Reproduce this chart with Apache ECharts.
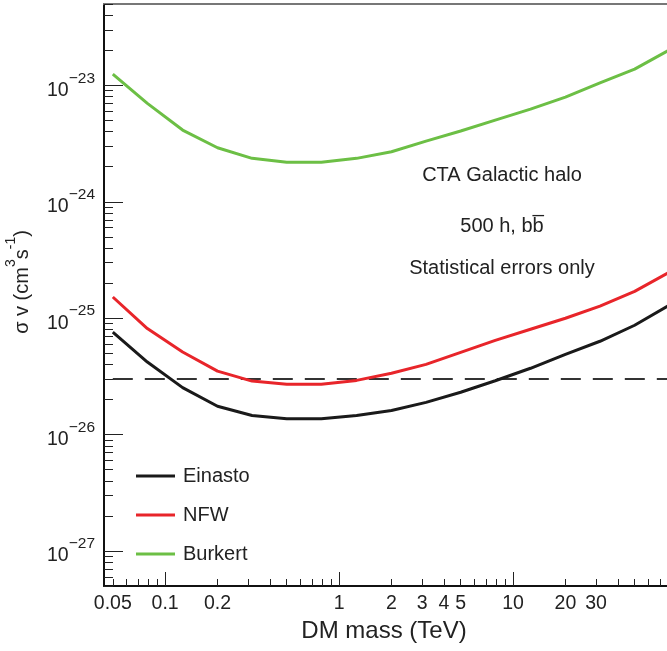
<!DOCTYPE html>
<html><head><meta charset="utf-8">
<script src="https://cdn.jsdelivr.net/npm/echarts@6/dist/echarts.min.js"></script>
<style>html,body{margin:0;padding:0;background:#fff}#c{width:667px;height:651px}</style>
</head><body><div id="c"></div>
<script>
// ---- data ----
const massTeV = [0.05, 0.079, 0.126, 0.2, 0.316, 0.5, 0.79, 1.26, 2, 3.16, 5, 7.9, 12.6, 20, 31.6, 50, 79];
const einasto = [7.6e-26, 4.2e-26, 2.53e-26, 1.75e-26, 1.46e-26, 1.37e-26, 1.37e-26, 1.46e-26, 1.61e-26, 1.89e-26, 2.31e-26, 2.90e-26, 3.71e-26, 4.89e-26, 6.33e-26, 8.69e-26, 1.29e-25];
const nfw = [1.52e-25, 8.14e-26, 5.12e-26, 3.51e-26, 2.88e-26, 2.70e-26, 2.70e-26, 2.92e-26, 3.36e-26, 4.01e-26, 5.09e-26, 6.45e-26, 8.03e-26, 9.98e-26, 1.27e-25, 1.70e-25, 2.48e-25];
const burkert = [1.25e-23, 7.0e-24, 4.13e-24, 2.91e-24, 2.36e-24, 2.18e-24, 2.18e-24, 2.36e-24, 2.69e-24, 3.32e-24, 4.05e-24, 5.03e-24, 6.25e-24, 7.93e-24, 1.05e-23, 1.38e-23, 2.01e-23];
const thermalXs = [3e-26, 3e-26];
const thermalMass = [0.05, 100];
const seriesNames = ['Einasto', 'NFW', 'Burkert'];
const xTickLabels = [0.05, 0.1, 0.2, 1, 2, 3, 4, 5, 10, 20, 30];
const yTickLabels = [1e-27, 1e-26, 1e-25, 1e-24, 1e-23];
const annotations = ['CTA Galactic halo', '500 h, bb\u0305', 'Statistical errors only'];

// ---- axis ranges / tick helpers ----
const X_MIN = 0.0445, X_MAX = 100, Y_MIN = 5e-28, Y_MAX = 5e-23;
function minorTicks(lo, hi, e0, e1) {
  const out = [];
  for (let e = e0; e <= e1; e++) for (let k = 2; k <= 9; k++) {
    const v = parseFloat((k * Math.pow(10, e)).toPrecision(3));
    if (v >= lo && v <= hi) out.push(v);
  }
  return out;
}
function decades(lo, hi, e0, e1) {
  const out = [];
  for (let e = e0; e <= e1; e++) { const v = parseFloat(Math.pow(10, e).toPrecision(3)); if (v >= lo && v <= hi) out.push(v); }
  return out;
}
const lg = v => Math.log10(v);
const FONT = 'Liberation Sans, Arial, Helvetica, sans-serif';
const TXT = '#222';

const chart = echarts.init(document.getElementById('c'), null, {renderer: 'canvas'});
const colors = ['#1a1a1a', '#e8252a', '#6cbf45'];
const curves = [einasto, nfw, burkert];

chart.setOption({
  animation: false,
  backgroundColor: '#fff',
  grid: {left: 104, right: -20, top: 4, bottom: 65, containLabel: false, outerBoundsMode: 'none'},
  legend: {
    orient: 'vertical', left: 131, top: 461, itemWidth: 39, itemHeight: 3, itemGap: 19,
    icon: 'rect', data: seriesNames,
    textStyle: {fontFamily: FONT, fontSize: 20, color: TXT, padding: [0, 0, 0, 3]}
  },
  xAxis: [
    {type: 'log', min: X_MIN, max: X_MAX, position: 'bottom',
     axisLine: {show: true, lineStyle: {color: '#111', width: 2}},
     axisTick: {show: true, inside: true, length: 7, lineStyle: {color: '#222', width: 1}, customValues: minorTicks(X_MIN, X_MAX, -2, 2)},
     axisLabel: {show: true, customValues: xTickLabels, margin: 8, color: TXT, fontFamily: FONT, fontSize: 19.5,
                 formatter: v => String(parseFloat(Number(v).toPrecision(3)))},
     splitLine: {show: false}, minorTick: {show: false},
     name: 'DM mass (TeV)', nameLocation: 'middle', nameGap: 30,
     nameTextStyle: {fontFamily: FONT, fontSize: 24, color: TXT, padding: [0, 23, 0, 0]}},
    {type: 'log', min: X_MIN, max: X_MAX, position: 'bottom',
     axisLine: {show: false},
     axisTick: {show: true, inside: true, length: 14, lineStyle: {color: '#222', width: 1}, customValues: decades(X_MIN, X_MAX, -2, 2)},
     axisLabel: {show: false}, splitLine: {show: false}},
    {type: 'log', min: X_MIN, max: X_MAX, position: 'top',
     axisLine: {show: true, lineStyle: {color: '#777', width: 2}},
     axisTick: {show: false}, axisLabel: {show: false}, splitLine: {show: false}}
  ],
  yAxis: [
    // data axis (log scale) carrying the series and the axis title
    {type: 'log', min: Y_MIN, max: Y_MAX, position: 'left',
     axisLine: {show: true, lineStyle: {color: '#111', width: 2}},
     axisTick: {show: false}, axisLabel: {show: false}, splitLine: {show: false},
     name: '{a|\u03c3 v (cm}{s|3}{a|s}{s|-1}{a|)}', nameLocation: 'middle', nameGap: 72,
     nameTextStyle: {fontFamily: FONT, fontSize: 20, color: TXT, padding: [0, 0, 0, 26],
       rich: {a: {fontFamily: FONT, fontSize: 20, color: TXT, lineHeight: 28, verticalAlign: 'bottom'},
              s: {fontFamily: FONT, fontSize: 14, color: TXT, lineHeight: 14, verticalAlign: 'top'}}}},
    // same range in decades, used for ticks and labels (ECharts rounds tiny log ticks to 0)
    {type: 'value', min: lg(Y_MIN), max: lg(Y_MAX), position: 'left',
     axisLine: {show: false},
     axisTick: {show: true, inside: true, length: 9, lineStyle: {color: '#222', width: 1}, customValues: minorTicks(Y_MIN, Y_MAX, -28, -23).map(lg)},
     axisLabel: {show: true, customValues: yTickLabels.map(v => Math.round(lg(v))), margin: 9, color: TXT, fontFamily: FONT,
       formatter: e => '{b|10}{s|\u2212' + Math.abs(Math.round(e)) + '}',
       rich: {b: {fontFamily: FONT, fontSize: 19.5, color: TXT, lineHeight: 30, verticalAlign: 'bottom'},
              s: {fontFamily: FONT, fontSize: 15.5, color: TXT, lineHeight: 15, verticalAlign: 'top'}}},
     splitLine: {show: false}},
    {type: 'value', min: lg(Y_MIN), max: lg(Y_MAX), position: 'left',
     axisLine: {show: false},
     axisTick: {show: true, inside: true, length: 19, lineStyle: {color: '#222', width: 1}, customValues: yTickLabels.map(v => Math.round(lg(v)))},
     axisLabel: {show: false}, splitLine: {show: false}}
  ],
  graphic: annotations.map((t, i) => ({
    type: 'text', x: 502, y: [175, 226, 268][i],
    style: {text: t, fill: TXT, font: '20px ' + FONT, align: 'center', verticalAlign: 'middle'}
  })),
  series: curves.map((arr, i) => ({
    name: seriesNames[i], type: 'line', xAxisIndex: 0, yAxisIndex: 0,
    showSymbol: false, symbol: 'none', smooth: false, clip: true,
    lineStyle: {color: colors[i], width: 3}, itemStyle: {color: colors[i]},
    data: massTeV.map((m, j) => [m, arr[j]])
  })).concat([{
    name: 'thermal', type: 'line', xAxisIndex: 0, yAxisIndex: 0, showSymbol: false, symbol: 'none',
    lineStyle: {color: '#333', width: 2, type: [20, 12]},
    data: thermalMass.map((m, j) => [m, thermalXs[j]]), z: 1
  }])
});
</script></body></html>
